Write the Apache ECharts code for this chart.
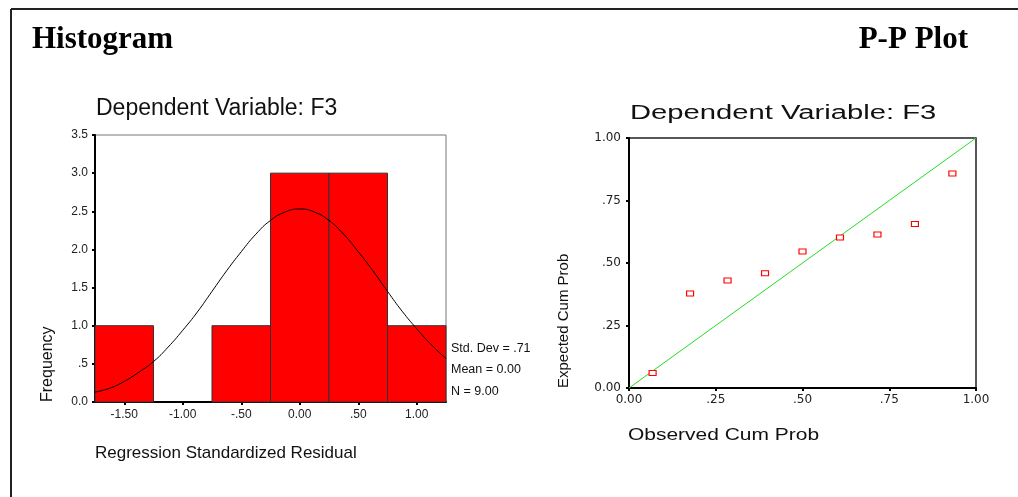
<!DOCTYPE html>
<html>
<head>
<meta charset="utf-8">
<script src="https://cdn.jsdelivr.net/npm/echarts@6/dist/echarts.min.js"></script>
<style>
html, body { margin: 0; padding: 0; background: #fff; }
#main { width: 1018px; height: 497px; }
</style>
</head>
<body>
<div id="main"></div>
<script>
// histogram of regression standardized residuals
var binStart = [-1.75, -1.25, -0.75, -0.25, 0.25, 0.75];
var binCounts = [1, 0, 1, 3, 3, 1];
var binWidth = 0.5;
var histTicks = [-1.5, -1.0, -0.5, 0, 0.5, 1.0];

// fitted normal curve
var curveX = [-1.75, -1.625, -1.5, -1.375, -1.25, -1.125, -1.0, -0.875, -0.75, -0.625, -0.5, -0.375, -0.25,
    -0.125, 0, 0.125, 0.25, 0.375, 0.5, 0.625, 0.75, 0.875, 1.0, 1.125, 1.25];
var curveY = [0.13, 0.18, 0.27, 0.39, 0.53, 0.72, 0.94, 1.18, 1.45, 1.72, 1.97, 2.20, 2.38,
    2.49, 2.53, 2.49, 2.38, 2.20, 1.97, 1.72, 1.45, 1.19, 0.96, 0.75, 0.57];

var statLines = ['Std. Dev = .71', 'Mean = 0.00', 'N = 9.00'];

// P-P plot
var observedCum = [0.068, 0.176, 0.284, 0.392, 0.5, 0.608, 0.716, 0.824, 0.932];
var expectedCum = [0.06, 0.378, 0.43, 0.459, 0.546, 0.602, 0.614, 0.656, 0.858];
var refLine = [[0, 0], [1, 1]];

(function () {
    var chartDom = document.getElementById('main');
    var myChart = echarts.init(chartDom);
    var sans = 'Liberation Sans, Arial, sans-serif';

    function fmt2(v) {
        if (Math.abs(v) < 1e-9) return '0.00';
        var s = Math.abs(v).toFixed(2);
        if (s.charAt(0) === '0') s = s.slice(1);
        return (v < 0 ? '-' : '') + s;
    }
    function fmt1(v) {
        if (Math.abs(v) < 1e-9) return '0.0';
        var s = Math.abs(v).toFixed(1);
        if (s.charAt(0) === '0') s = s.slice(1);
        return s;
    }

    var histData = binStart.map(function (s, i) {
        return [s, s + binWidth, binCounts[i]];
    });
    var curveData = curveX.map(function (x, i) {
        return [x, curveY[i]];
    });
    var ppData = observedCum.map(function (x, i) {
        return [x, expectedCum[i]];
    });

    var tickStyle = { show: true, inside: false, length: 3, lineStyle: { color: '#000', width: 2 } };

    var option = {
        animation: false,
        grid: [
            { left: 95, top: 135, right: 572, bottom: 95, show: true, borderColor: '#777', borderWidth: 1 },
            { left: 629, top: 138, right: 42, bottom: 109, show: true, borderColor: '#222', borderWidth: 1.5 }
        ],
        xAxis: [
            {
                gridIndex: 0, type: 'value', min: -1.75, max: 1.25,
                axisLine: { onZero: false, lineStyle: { color: '#000', width: 2 } },
                axisTick: { show: true, inside: false, length: 3, lineStyle: { color: '#000', width: 2 }, customValues: histTicks },
                axisLabel: { color: '#222', fontFamily: sans, fontSize: 12, margin: 7, customValues: histTicks, formatter: fmt2 },
                splitLine: { show: false }
            },
            {
                gridIndex: 1, type: 'value', min: 0, max: 1, interval: 0.25,
                axisLine: { onZero: false, lineStyle: { color: '#000', width: 2 } },
                axisTick: tickStyle,
                axisLabel: { color: '#222', fontFamily: 'DejaVu Sans', fontSize: 12, margin: 6, formatter: fmt2 },
                splitLine: { show: false }
            }
        ],
        yAxis: [
            {
                gridIndex: 0, type: 'value', min: 0, max: 3.5, interval: 0.5,
                axisLine: { show: true, onZero: false, lineStyle: { color: '#000', width: 2 } },
                axisTick: tickStyle,
                axisLabel: { color: '#222', fontFamily: sans, fontSize: 12, margin: 7, formatter: fmt1 },
                splitLine: { show: false }
            },
            {
                gridIndex: 1, type: 'value', min: 0, max: 1, interval: 0.25,
                axisLine: { show: true, onZero: false, lineStyle: { color: '#000', width: 2 } },
                axisTick: tickStyle,
                axisLabel: { color: '#222', fontFamily: 'DejaVu Sans', fontSize: 12, margin: 8, formatter: fmt2 },
                splitLine: { show: false }
            }
        ],
        series: [
            {
                type: 'custom',
                xAxisIndex: 0, yAxisIndex: 0,
                encode: { x: [0, 1], y: 2 },
                data: histData,
                renderItem: function (params, api) {
                    var c = api.value(2);
                    if (!c) return null;
                    var p0 = api.coord([api.value(0), c]);
                    var p1 = api.coord([api.value(1), 0]);
                    return {
                        type: 'rect',
                        shape: { x: p0[0], y: p0[1], width: p1[0] - p0[0], height: p1[1] - p0[1] },
                        style: { fill: '#ff0000', stroke: '#333', lineWidth: 1 }
                    };
                }
            },
            {
                type: 'line',
                xAxisIndex: 0, yAxisIndex: 0,
                data: curveData,
                smooth: true,
                showSymbol: false,
                symbol: 'none',
                lineStyle: { color: '#000', width: 1 },
                z: 5
            },
            {
                type: 'line',
                xAxisIndex: 1, yAxisIndex: 1,
                data: refLine,
                symbol: 'none',
                lineStyle: { color: '#22dd22', width: 1 }
            },
            {
                type: 'scatter',
                xAxisIndex: 1, yAxisIndex: 1,
                data: ppData,
                symbol: 'rect',
                symbolSize: [7, 5],
                itemStyle: { color: '#fff', borderColor: '#ff0000', borderWidth: 1, opacity: 1 },
                z: 5
            }
        ],
        graphic: [
            // outer frame
            { type: 'line', shape: { x1: 11, y1: 9, x2: 1018, y2: 9 }, style: { stroke: '#222', lineWidth: 2 } },
            { type: 'line', shape: { x1: 11, y1: 9, x2: 11, y2: 497 }, style: { stroke: '#222', lineWidth: 2 } },
            // section titles
            { type: 'text', x: 32, y: 40, style: { text: 'Histogram', font: 'bold 31px "Liberation Serif", "Times New Roman", serif', fill: '#000', textVerticalAlign: 'middle' } },
            { type: 'text', x: 968, y: 40, style: { text: 'P-P Plot', font: 'bold 31px "Liberation Serif", "Times New Roman", serif', fill: '#000', textAlign: 'right', textVerticalAlign: 'middle' } },
            // histogram texts
            { type: 'text', x: 96, y: 109, style: { text: 'Dependent Variable: F3', font: '23px ' + sans, fill: '#111', textVerticalAlign: 'middle' } },
            { type: 'text', x: 48, y: 402, rotation: Math.PI / 2, style: { text: 'Frequency', font: '16px ' + sans, fill: '#111', textAlign: 'left', textVerticalAlign: 'middle' } },
            { type: 'text', x: 95, y: 453, style: { text: 'Regression Standardized Residual', font: '17px ' + sans, fill: '#111', textVerticalAlign: 'middle' } },
            { type: 'text', x: 451, y: 349, style: { text: statLines[0], font: '12.5px ' + sans, fill: '#111', textVerticalAlign: 'middle' } },
            { type: 'text', x: 451, y: 370, style: { text: statLines[1], font: '12.5px ' + sans, fill: '#111', textVerticalAlign: 'middle' } },
            { type: 'text', x: 451, y: 392, style: { text: statLines[2], font: '12.5px ' + sans, fill: '#111', textVerticalAlign: 'middle' } },
            // P-P plot texts
            { type: 'text', x: 630, y: 113, scaleX: 1.46, style: { text: 'Dependent Variable: F3', font: '20px ' + sans, fill: '#111', textVerticalAlign: 'middle' } },
            { type: 'text', x: 628, y: 436, scaleX: 1.31, style: { text: 'Observed Cum Prob', font: '16px ' + sans, fill: '#111', textVerticalAlign: 'middle' } },
            { type: 'text', x: 564, y: 388, rotation: Math.PI / 2, style: { text: 'Expected Cum Prob', font: '15px ' + sans, fill: '#111', textAlign: 'left', textVerticalAlign: 'middle' } }
        ]
    };

    myChart.setOption(option);
    window.addEventListener('resize', function () {
        myChart.resize();
    });
})();
</script>
</body>
</html>
